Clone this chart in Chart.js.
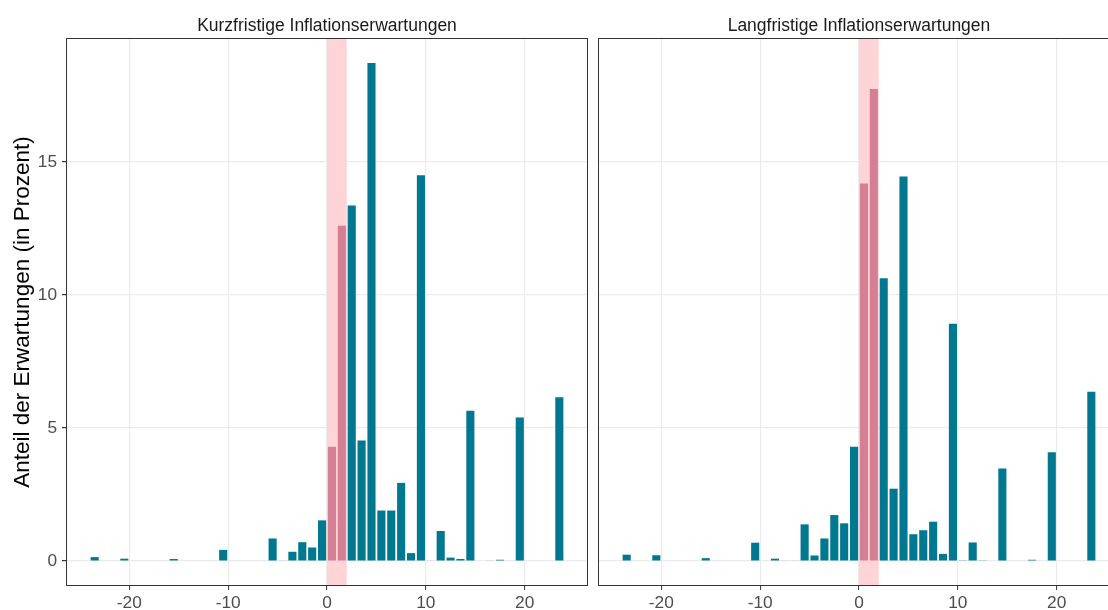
<!DOCTYPE html>
<html><head><meta charset="utf-8">
<script src="https://cdn.jsdelivr.net/npm/chart.js@4.4.1/dist/chart.umd.min.js"></script>
<style>
html,body{margin:0;padding:0;background:#fff;overflow:hidden;width:1108px;height:610px}
#wrap{position:relative;width:1108px;height:610px;overflow:hidden;background:#fff}
canvas{position:absolute;top:0}
.strip{position:absolute;top:15px;height:20px;line-height:20px;text-align:center;font-family:"Liberation Sans",Arial,sans-serif;font-size:17.5px;color:#1a1a1a;white-space:nowrap}
</style></head><body>
<div id="wrap">
<canvas id="c1" width="592" height="610" style="left:0px"></canvas>
<canvas id="c2" width="532" height="610" style="left:592px"></canvas>
<div class="strip" style="left:66px;width:522px">Kurzfristige Inflationserwartungen</div>
<div class="strip" style="left:598px;width:522px">Langfristige Inflationserwartungen</div>
</div>
<script>
// bin left edges (bin width 1)
const binStart = [-24,-23,-22,-21,-20,-19,-18,-17,-16,-15,-14,-13,-12,-11,-10,-9,-8,-7,-6,-5,-4,-3,-2,-1,
                  0,1,2,3,4,5,6,7,8,9,10,11,12,13,14,15,16,17,18,19,20,21,22,23];
// Kurzfristige Inflationserwartungen (share in %)
const kurzValues = [0.15,0,0,0.09,0,0,0,0,0.08,0,0,0,0,0.42,0,0,0,0,0.85,0.02,0.35,0.71,0.51,1.53,
                    4.3,12.6,13.36,4.53,18.72,1.9,1.9,2.94,0.3,14.5,0.02,1.13,0.13,0.08,5.65,0,0.02,0.05,0,5.4,0,0,0,6.16];
// Langfristige Inflationserwartungen (share in %)
const langValues = [0.24,0,0,0.22,0,0,0,0,0.11,0,0,0,0,0.69,0,0.09,0.02,0.02,1.38,0.21,0.85,1.73,1.42,4.3,
                    14.19,17.74,10.63,2.72,14.45,1.01,1.16,1.48,0.27,8.92,0.03,0.7,0.03,0,3.48,0,0,0.05,0,4.09,0,0,0,6.36];
const xTicks = [-20,-10,0,10,20];
const yTicks = [0,5,10,15];
const targetBand = [0,2];
const yTitle = 'Anteil der Erwartungen (in Prozent)';

const FONT = "'Liberation Sans', Arial, sans-serif";
const TEAL = '#00788f';
const PINKBAR = '#d47f93';
const BAND = '#ffd4d7';

const bandPlugin = {
  id: 'band',
  beforeDatasetsDraw(chart) {
    const {ctx, chartArea, scales} = chart;
    const x0 = scales.x.getPixelForValue(targetBand[0]);
    const x1 = scales.x.getPixelForValue(targetBand[1]);
    ctx.save();
    ctx.fillStyle = BAND;
    ctx.fillRect(x0, chartArea.top, x1 - x0, chartArea.bottom - chartArea.top);
    ctx.restore();
  }
};
const framePlugin = {
  id: 'frame',
  afterDraw(chart) {
    const {ctx, chartArea} = chart;
    ctx.save();
    ctx.strokeStyle = '#333333';
    ctx.lineWidth = 1;
    ctx.strokeRect(Math.round(chartArea.left) + 0.5, Math.round(chartArea.top) + 0.5,
      Math.round(chartArea.right - chartArea.left) - 1, Math.round(chartArea.bottom - chartArea.top) - 1);
    ctx.restore();
  }
};

function makeChart(id, values, first) {
  const data = binStart.map((b, i) => ({x: b + 0.5, y: values[i]}));
  return new Chart(document.getElementById(id), {
    type: 'bar',
    data: {
      datasets: [{
        data: data,
        backgroundColor: data.map(d => (d.x > targetBand[0] && d.x < targetBand[1]) ? PINKBAR : TEAL),
        borderWidth: 0,
        barPercentage: 0.82,
        categoryPercentage: 1
      }]
    },
    options: {
      responsive: false,
      animation: false,
      devicePixelRatio: 1,
      layout: {padding: {left: 0, top: 38, right: 4, bottom: 0}},
      plugins: {legend: {display: false}, tooltip: {enabled: false}, title: {display: false}},
      scales: {
        x: {
          type: 'linear',
          min: -26.4, max: 26.4,
          offset: false,
          grid: {offset: false, color: '#ebebeb', lineWidth: 1.2, tickLength: 4, tickColor: '#333333', tickWidth: 1},
          border: {display: false},
          afterBuildTicks: s => { s.ticks = xTicks.map(v => ({value: v})); },
          afterFit: s => { s.height = 24; },
          ticks: {color: '#4d4d4d', font: {family: FONT, size: 17.3}, padding: 3, maxRotation: 0, autoSkip: false}
        },
        y: {
          type: 'linear',
          min: -0.936, max: 19.656,
          grid: {color: '#ebebeb', lineWidth: 1.2, tickLength: 4, tickColor: '#333333', drawTicks: first},
          border: {display: false},
          afterBuildTicks: s => { s.ticks = yTicks.map(v => ({value: v})); },
          afterFit: s => { s.width = first ? 66 : 6; },
          ticks: {display: first, color: '#4d4d4d', font: {family: FONT, size: 17.3}, padding: 5},
          title: {display: first, text: yTitle, color: '#000000', font: {family: FONT, size: 22.5}, padding: {top: 9, bottom: 0}}
        }
      }
    },
    plugins: [bandPlugin, framePlugin]
  });
}
makeChart('c1', kurzValues, true);
makeChart('c2', langValues, false);
</script>
</body></html>
